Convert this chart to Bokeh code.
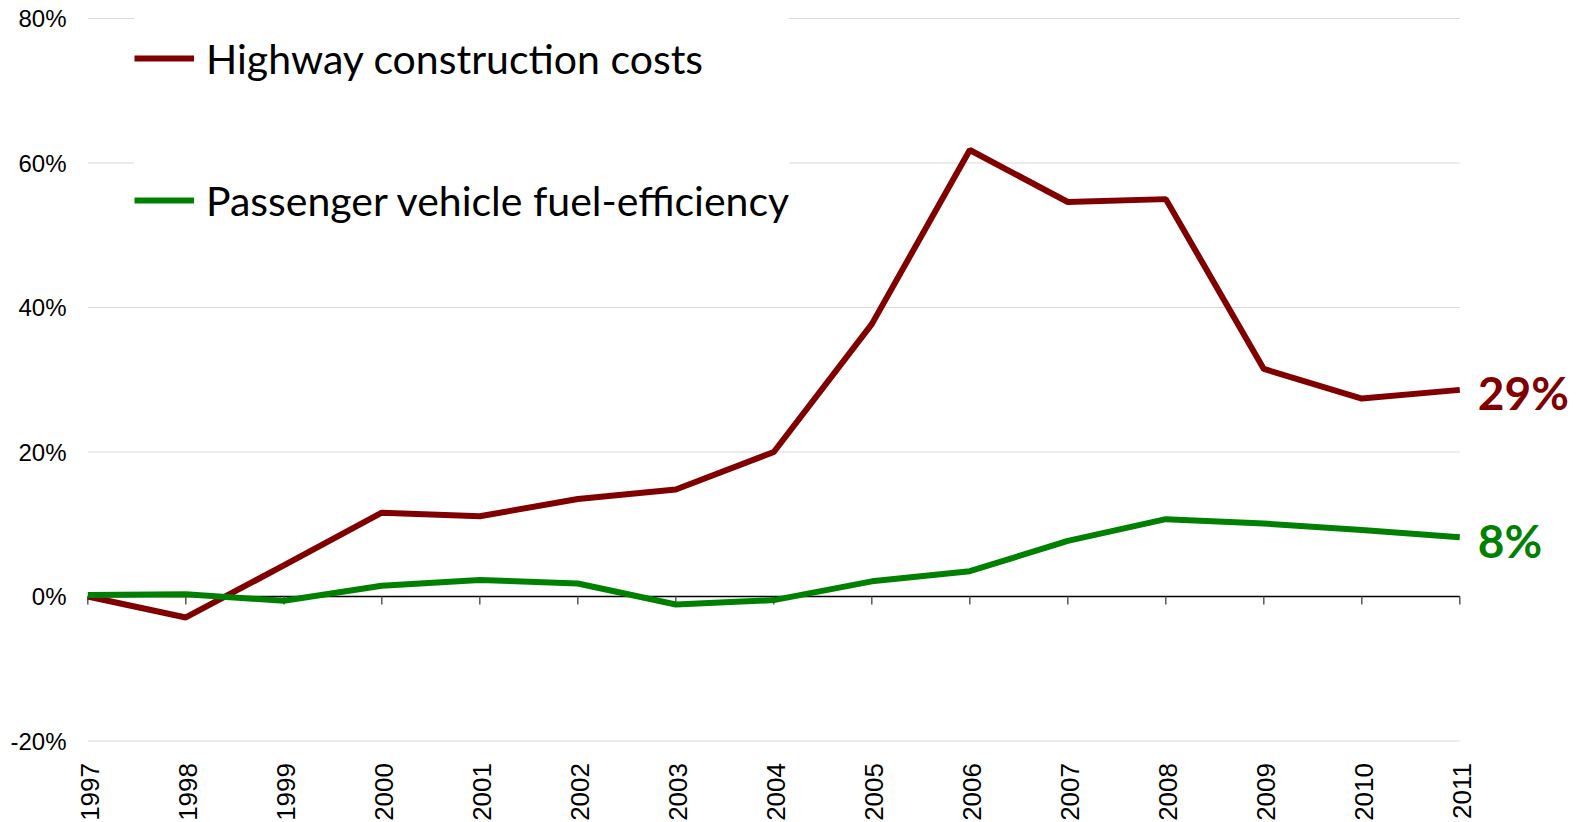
import math
from bokeh.plotting import figure
from bokeh.models import Range1d, FixedTicker, NumeralTickFormatter, Legend, LegendItem
from bokeh.core.properties import value
from bokeh.embed import file_html
from bokeh.resources import INLINE

# ---- data ----
years = [1997, 1998, 1999, 2000, 2001, 2002, 2003, 2004, 2005, 2006, 2007, 2008, 2009, 2010, 2011]
year_labels = [str(y) for y in years]
highway = [0.0, -0.029, 0.043, 0.116, 0.111, 0.135, 0.148, 0.200, 0.377, 0.618, 0.546, 0.550, 0.315, 0.274, 0.286]
fuel = [0.002, 0.003, -0.006, 0.015, 0.023, 0.018, -0.011, -0.005, 0.021, 0.035, 0.077, 0.107, 0.101, 0.092, 0.082]
series_names = ["Highway construction costs", "Passenger vehicle fuel-efficiency"]
end_labels = ["29%", "8%"]
y_ticks = [-0.2, 0.0, 0.2, 0.4, 0.6, 0.8]

RED = "#800000"
GREEN = "#008000"

# ---- layout (pixels) ----
W, H = 1578, 822
X0 = 87.3              # canvas x of the first year
FRAME_L = 67           # canvas x of the frame's left edge
PX_PER_YEAR = 98
PX_PER_UNIT = 722.5
ZERO_Y = 596           # canvas y of the 0% line
x_start = years[0] - (X0 - FRAME_L) / PX_PER_YEAR
x_end = years[0] + (W - X0) / PX_PER_YEAR
y_end = ZERO_Y / PX_PER_UNIT
y_start = -(H - ZERO_Y) / PX_PER_UNIT

p = figure(width=W, height=H, output_backend="svg", toolbar_location=None, title=None,
           x_range=Range1d(x_start, x_end), y_range=Range1d(y_start, y_end),
           min_border_left=FRAME_L, min_border_right=0,
           min_border_bottom=0, min_border_top=0)
p.outline_line_color = None
p.background_fill_color = "white"
p.border_fill_color = "white"
p.xgrid.visible = False
p.ygrid.visible = False
p.xaxis.visible = False

# y axis
p.yaxis.ticker = FixedTicker(ticks=y_ticks)
p.yaxis.formatter = NumeralTickFormatter(format="0%")
p.yaxis.axis_line_color = None
p.yaxis.major_tick_line_color = None
p.yaxis.major_tick_out = 0
p.yaxis.major_tick_in = 0
p.yaxis.minor_tick_line_color = None
p.yaxis.minor_tick_out = 0
p.yaxis.major_label_standoff = 1
p.yaxis.major_label_text_font = "Liberation Sans"
p.yaxis.major_label_text_font_size = "24px"
p.yaxis.major_label_text_color = "#000000"

# horizontal gridlines spanning the years
n = len(y_ticks)
p.segment(x0=[years[0]] * n, y0=y_ticks, x1=[years[-1]] * n, y1=y_ticks,
          line_color="#d9d9d9", line_width=1.2)

# zero axis line with tick marks
p.segment(x0=[years[0]], y0=[0], x1=[years[-1]], y1=[0], line_color="#000000", line_width=1.5)
tick_len = 8 / PX_PER_UNIT
p.segment(x0=years, y0=[0] * len(years), x1=years, y1=[-tick_len] * len(years),
          line_color="#595959", line_width=1.5)

# year labels below the bottom gridline
p.text(x=years, y=[y_ticks[0]] * len(years), text=year_labels, angle=math.pi / 2,
       text_align="right", text_baseline="middle", x_offset=2, y_offset=22,
       text_font=value("Liberation Sans"), text_font_size="26px", text_color="#000000")

# series lines
r1 = p.line(years, highway, line_color=RED, line_width=6)
r2 = p.line(years, fuel, line_color=GREEN, line_width=6)

# end-value labels
p.text(x=[years[-1]], y=[highway[-1]], text=[end_labels[0]], x_offset=18, y_offset=3,
       text_align="left", text_baseline="middle", text_font=value("Lato"),
       text_font_size="46px", text_font_style="bold", text_color=RED)
p.text(x=[years[-1]], y=[fuel[-1]], text=[end_labels[1]], x_offset=18, y_offset=3,
       text_align="left", text_baseline="middle", text_font=value("Lato"),
       text_font_size="46px", text_font_style="bold", text_color=GREEN)

ITEM_H = 86
SPACING = 56
LEG_TOP = 15
leg_h = 2 * ITEM_H + SPACING
legend = Legend(items=[LegendItem(label=series_names[0], renderers=[r1]),
                       LegendItem(label=series_names[1], renderers=[r2])],
                location=(134 - FRAME_L, H - LEG_TOP - leg_h),
                padding=0, spacing=SPACING, margin=0,
                glyph_width=60, glyph_height=ITEM_H, label_height=ITEM_H,
                label_standoff=12,
                label_text_font="Lato", label_text_font_size="41px",
                label_text_color="#000000",
                background_fill_color="white", background_fill_alpha=1.0,
                border_line_color=None)
p.add_layout(legend)

open("out.html", "w").write(file_html(p, INLINE))
